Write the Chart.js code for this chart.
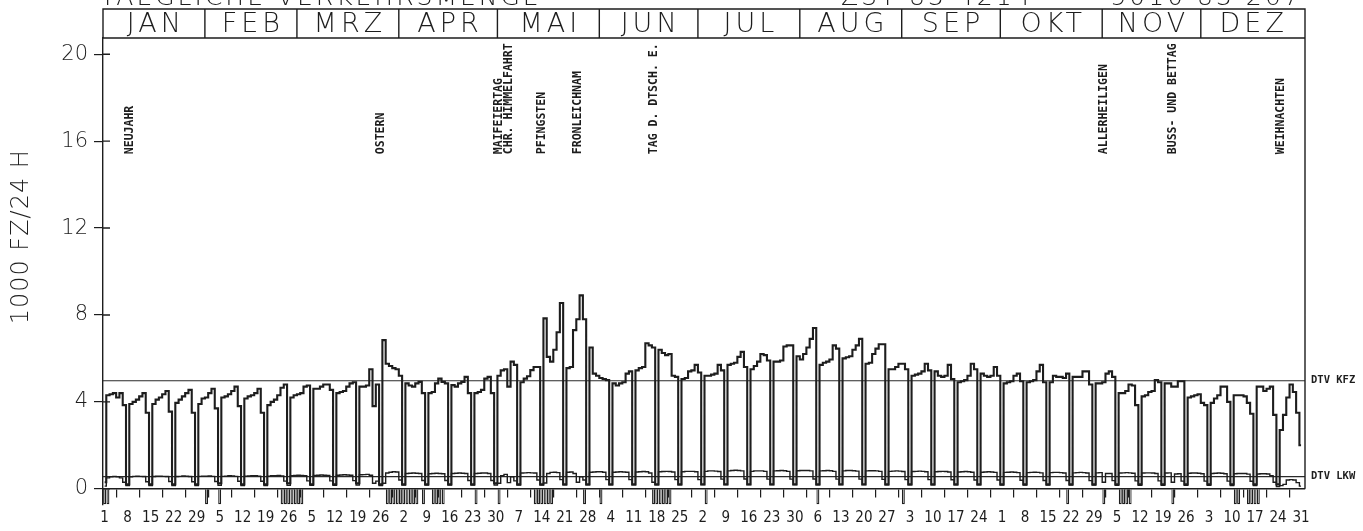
<!DOCTYPE html>
<html>
<head>
<meta charset="utf-8">
<script src="https://cdn.jsdelivr.net/npm/chart.js@4.4.1/dist/chart.umd.min.js"></script>
<style>
  html, body { margin: 0; padding: 0; background: #ffffff; }
  #wrap { width: 1363px; height: 531px; }
</style>
</head>
<body>
<div id="wrap"><canvas id="c" width="1363" height="531"></canvas></div>
<script>
// ---------- DATA (1000 Fz / 24 h, one value per day, 1989, weeks start on Sunday) ----------
const kfzDays001to091 = [
  0.30,4.30,4.35,4.40,4.20,4.40,3.85,
  0.20,3.90,4.00,4.10,4.25,4.40,3.50,
  0.20,3.90,4.10,4.20,4.35,4.50,3.55,
  0.20,3.95,4.10,4.25,4.40,4.55,3.50,
  0.20,3.90,4.15,4.20,4.40,4.60,3.70,
  0.25,4.20,4.25,4.35,4.50,4.70,3.80,
  0.20,4.15,4.25,4.30,4.40,4.60,3.50,
  0.20,3.85,4.00,4.10,4.30,4.65,4.80,
  0.25,4.20,4.30,4.35,4.40,4.70,4.75,
  0.20,4.60,4.60,4.70,4.80,4.80,4.55,
  0.20,4.40,4.45,4.50,4.70,4.85,4.90,
  0.25,4.70,4.70,4.75,5.50,3.80,4.80,
  0.20,6.84,5.75,5.65,5.55,5.50,5.20
];
const kfzDays092to182 = [
  0.20,4.85,4.75,4.70,4.85,4.92,4.40,
  0.20,4.40,4.45,4.85,5.07,4.92,4.85,
  0.20,4.77,4.70,4.85,4.92,5.15,4.40,
  0.20,4.40,4.45,4.55,5.07,5.15,4.40,
  0.25,5.20,5.45,5.50,4.70,5.85,5.70,
  0.20,4.90,5.07,5.18,5.46,5.60,5.60,
  0.20,7.84,6.07,5.85,6.40,7.20,8.55,
  0.20,5.55,5.60,7.30,7.80,8.90,7.80,
  0.20,6.50,5.30,5.20,5.10,5.05,5.00,
  0.20,4.85,4.75,4.85,4.90,5.30,5.40,
  0.20,5.45,5.55,5.60,6.70,6.60,6.50,
  0.20,6.40,6.25,6.15,6.20,5.20,5.15,
  0.20,5.05,5.10,5.40,5.45,5.70,5.35
];
const kfzDays183to273 = [
  0.20,5.20,5.20,5.25,5.30,5.70,5.45,
  0.20,5.70,5.75,5.80,6.07,6.30,5.60,
  0.20,5.50,5.65,5.85,6.20,6.15,5.90,
  0.20,5.85,5.85,5.90,6.55,6.60,6.60,
  0.20,6.10,5.95,6.20,6.50,6.90,7.40,
  0.20,5.70,5.80,5.85,5.95,6.60,6.45,
  0.20,6.00,6.05,6.10,6.40,6.60,6.90,
  0.20,5.75,5.80,6.20,6.45,6.65,6.65,
  0.20,5.50,5.50,5.60,5.75,5.75,5.50,
  0.20,5.20,5.25,5.30,5.40,5.75,5.45,
  0.20,5.40,5.20,5.15,5.20,5.70,5.05,
  0.20,4.90,4.95,5.00,5.20,5.75,5.50,
  0.20,5.30,5.20,5.15,5.20,5.60,5.20
];
const kfzDays274to365 = [
  0.20,4.85,4.90,4.95,5.20,5.30,4.95,
  0.20,4.90,4.95,5.00,5.40,5.70,4.90,
  0.20,4.90,5.20,5.15,5.15,5.10,5.30,
  0.20,5.15,5.15,5.15,5.40,5.40,4.80,
  0.20,4.85,4.85,4.90,5.30,5.40,5.15,
  0.20,4.40,4.40,4.50,4.80,4.75,3.85,
  0.20,4.25,4.30,4.45,4.50,5.00,4.90,
  0.20,4.85,4.85,4.70,4.70,4.95,4.95,
  0.20,4.20,4.25,4.30,4.35,3.95,3.85,
  0.20,3.95,4.15,4.30,4.70,4.70,4.00,
  0.20,4.30,4.30,4.30,4.25,3.95,3.45,
  0.20,4.70,4.70,4.50,4.60,4.70,3.40,
  0.20,2.70,3.40,4.20,4.80,4.45,3.50,
  2.00
];

const lkwDays001to091 = [
  0.12,0.50,0.55,0.56,0.55,0.50,0.30,
  0.15,0.55,0.57,0.58,0.57,0.56,0.32,
  0.15,0.56,0.58,0.58,0.57,0.56,0.33,
  0.14,0.56,0.57,0.59,0.58,0.56,0.32,
  0.15,0.57,0.58,0.58,0.59,0.57,0.33,
  0.16,0.57,0.58,0.60,0.59,0.57,0.34,
  0.15,0.58,0.59,0.60,0.60,0.58,0.34,
  0.15,0.58,0.60,0.60,0.61,0.59,0.35,
  0.16,0.60,0.61,0.62,0.61,0.60,0.36,
  0.16,0.61,0.62,0.63,0.62,0.61,0.36,
  0.16,0.62,0.63,0.64,0.63,0.62,0.37,
  0.17,0.64,0.65,0.66,0.62,0.25,0.35,
  0.15,0.25,0.72,0.76,0.78,0.77,0.40
];
const lkwDays092to182 = [
  0.17,0.70,0.71,0.72,0.71,0.70,0.38,
  0.17,0.69,0.70,0.71,0.70,0.69,0.38,
  0.17,0.70,0.71,0.72,0.71,0.70,0.38,
  0.17,0.70,0.71,0.72,0.72,0.70,0.38,
  0.17,0.25,0.60,0.66,0.28,0.55,0.36,
  0.17,0.72,0.73,0.74,0.73,0.72,0.40,
  0.17,0.26,0.70,0.75,0.76,0.74,0.42,
  0.18,0.76,0.77,0.70,0.30,0.55,0.40,
  0.18,0.76,0.77,0.78,0.78,0.76,0.42,
  0.18,0.76,0.77,0.78,0.77,0.76,0.42,
  0.18,0.77,0.78,0.79,0.78,0.72,0.30,
  0.18,0.78,0.79,0.80,0.79,0.77,0.42,
  0.18,0.78,0.80,0.80,0.80,0.78,0.42
];
const lkwDays183to273 = [
  0.19,0.80,0.82,0.82,0.81,0.79,0.44,
  0.19,0.82,0.84,0.85,0.84,0.82,0.45,
  0.19,0.80,0.82,0.82,0.82,0.80,0.44,
  0.19,0.82,0.83,0.84,0.83,0.80,0.44,
  0.19,0.83,0.84,0.84,0.84,0.82,0.45,
  0.18,0.82,0.83,0.84,0.83,0.80,0.44,
  0.19,0.82,0.84,0.84,0.83,0.81,0.44,
  0.19,0.82,0.83,0.83,0.82,0.80,0.43,
  0.18,0.80,0.81,0.82,0.81,0.79,0.42,
  0.18,0.79,0.80,0.81,0.80,0.78,0.42,
  0.18,0.78,0.79,0.80,0.79,0.77,0.41,
  0.18,0.77,0.78,0.79,0.78,0.76,0.40,
  0.18,0.76,0.77,0.78,0.77,0.75,0.40
];
const lkwDays274to365 = [
  0.17,0.75,0.76,0.77,0.76,0.74,0.39,
  0.17,0.74,0.75,0.76,0.75,0.73,0.38,
  0.17,0.74,0.75,0.75,0.74,0.72,0.38,
  0.17,0.73,0.74,0.75,0.74,0.72,0.37,
  0.17,0.73,0.74,0.30,0.70,0.70,0.37,
  0.16,0.72,0.73,0.74,0.73,0.71,0.36,
  0.16,0.72,0.73,0.73,0.72,0.70,0.36,
  0.16,0.72,0.73,0.30,0.68,0.69,0.35,
  0.16,0.71,0.72,0.72,0.71,0.69,0.35,
  0.16,0.70,0.71,0.72,0.71,0.69,0.35,
  0.15,0.69,0.70,0.70,0.70,0.67,0.34,
  0.15,0.68,0.69,0.69,0.68,0.60,0.30,
  0.10,0.14,0.20,0.40,0.42,0.40,0.28,
  0.12
];

const dtvKfz = 4.97;          // DTV KFZ
const dtvLkw = 0.56;          // DTV LKW

// days marked with a hanging bar below the zero line (holiday / vacation days)
const markedDays = [1,2,32,36,55,56,57,58,59,60,61,87,88,89,90,91,92,93,94,95,96,98,
  101,102,103,104,114,121,132,133,134,135,136,137,147,152,168,169,170,171,172,173,
  184,218,244,294,305,310,311,312,313,326,345,346,349,350,351,352];
const markDepth = -0.72;

const holidayDays  = [1, 85, 121, 124, 134, 145, 168, 305, 326, 359];
const holidayNames = ['NEUJAHR','OSTERN','MAIFEIERTAG','CHR. HIMMELFAHRT','PFINGSTEN',
  'FRONLEICHNAM','TAG D. DTSCH. E.','ALLERHEILIGEN','BUSS- UND BETTAG','WEIHNACHTEN'];

const monthNames = ['JAN','FEB','MRZ','APR','MAI','JUN','JUL','AUG','SEP','OKT','NOV','DEZ'];
const monthDays  = [31,28,31,30,31,30,31,31,30,31,30,31];

// x tick labels: day of month of every Sunday
const tickLabels = [1,8,15,22,29, 5,12,19,26, 5,12,19,26, 2,9,16,23,30, 7,14,21,28,
  4,11,18,25, 2,9,16,23,30, 6,13,20,27, 3,10,17,24, 1,8,15,22,29, 5,12,19,26, 3,10,17,24,31];
const yTicks = [0,4,8,12,16,20];

const titleLeft  = 'TAEGLICHE VERKEHRSMENGE';
const titleMid   = 'ZST 83 4214';
const titleRight = '5010 83 267';
const yTitle = '1000 FZ/24 H';

// ---------- BUILD ----------
const kfz = [...kfzDays001to091, ...kfzDays092to182, ...kfzDays183to273, ...kfzDays274to365];
const lkw = [...lkwDays001to091, ...lkwDays092to182, ...lkwDays183to273, ...lkwDays274to365];
const days = kfz.map((_, i) => i + 1);
const tickDays = tickLabels.map((_, i) => 1 + 7 * i);
const xMin = 0.5, xMax = 366.2;

const ink = '#1d1d1d';
const thinFont = "'DejaVu Sans', sans-serif";
const monoFont = "'DejaVu Sans Mono', monospace";

const framePlugin = {
  id: 'frame',
  afterDraw(chart) {
    const { ctx, chartArea: a, scales: { x, y } } = chart;
    const headTop = 9;
    ctx.save();
    ctx.strokeStyle = ink;
    ctx.fillStyle = ink;
    ctx.lineWidth = 1.4;
    ctx.beginPath();
    ctx.moveTo(a.left, a.top); ctx.lineTo(a.left, headTop);
    ctx.lineTo(a.right, headTop); ctx.lineTo(a.right, y.getPixelForValue(0));
    ctx.moveTo(a.left, a.top); ctx.lineTo(a.right, a.top);
    let start = 1;
    const centers = [];
    monthNames.forEach((m, i) => {
      const x0 = x.getPixelForValue(start - 0.5);
      const x1 = x.getPixelForValue(start + monthDays[i] - 0.5);
      if (i > 0) { ctx.moveTo(x0, headTop); ctx.lineTo(x0, a.top); }
      centers.push((x0 + x1) / 2);
      start += monthDays[i];
    });
    // y tick marks cross the axis slightly into the plot
    yTicks.forEach(v => {
      const py = y.getPixelForValue(v);
      ctx.moveTo(a.left, py); ctx.lineTo(a.left + 7, py);
    });
    ctx.stroke();

    // month names
    ctx.font = "200 27px " + thinFont;
    ctx.textAlign = 'center';
    ctx.textBaseline = 'middle';
    try { ctx.letterSpacing = '4px'; } catch (e) {}
    monthNames.forEach((m, i) => ctx.fillText(m, centers[i] + 2, (headTop + a.top) / 2 + 1));

    // cut-off title line above the header
    ctx.font = "200 25px " + thinFont;
    try { ctx.letterSpacing = '3px'; } catch (e) {}
    ctx.textAlign = 'left';
    ctx.textBaseline = 'alphabetic';
    ctx.fillText(titleLeft, a.left - 3, 5);
    ctx.fillText(titleMid, x.getPixelForValue(225), 5);
    ctx.fillText(titleRight, x.getPixelForValue(307), 5);

    // y axis title
    ctx.font = "200 24px " + thinFont;
    try { ctx.letterSpacing = '1px'; } catch (e) {}
    ctx.save();
    ctx.translate(22, y.getPixelForValue(11.6));
    ctx.rotate(-Math.PI / 2);
    ctx.textAlign = 'center';
    ctx.textBaseline = 'middle';
    ctx.fillText(yTitle, 0, 0);
    ctx.restore();
    try { ctx.letterSpacing = '0px'; } catch (e) {}

    // holiday names (vertical)
    ctx.font = "bold 11.5px " + monoFont;
    ctx.textAlign = 'left';
    ctx.textBaseline = 'middle';
    const baseY = y.getPixelForValue(15.4);
    holidayDays.forEach((d, i) => {
      const px = Math.max(x.getPixelForValue(d), a.left + 27);
      ctx.save();
      ctx.translate(px, baseY);
      ctx.rotate(-Math.PI / 2);
      ctx.fillText(holidayNames[i], 0, 0);
      ctx.restore();
    });

    // DTV labels right of the frame
    ctx.font = "bold 10.5px " + monoFont;
    ctx.fillText('DTV KFZ', a.right + 6, y.getPixelForValue(dtvKfz));
    ctx.fillText('DTV LKW', a.right + 6, y.getPixelForValue(dtvLkw));
    ctx.restore();
  }
};

new Chart(document.getElementById('c'), {
  type: 'line',
  data: {
    datasets: [
      { label: 'KFZ', data: days.map((d, i) => ({ x: d, y: kfz[i] })), stepped: 'middle',
        borderColor: ink, borderWidth: 2.1, pointRadius: 0, fill: false },
      { label: 'LKW', data: days.map((d, i) => ({ x: d, y: lkw[i] })), stepped: 'middle',
        borderColor: ink, borderWidth: 1.4, pointRadius: 0, fill: false },
      { label: 'DTV KFZ', data: [{ x: xMin, y: dtvKfz }, { x: xMax, y: dtvKfz }],
        borderColor: '#2a2a2a', borderWidth: 1.2, pointRadius: 0, fill: false },
      { label: 'DTV LKW', data: [{ x: xMin, y: dtvLkw }, { x: xMax, y: dtvLkw }],
        borderColor: '#2a2a2a', borderWidth: 1.2, pointRadius: 0, fill: false },
      { type: 'bar', label: 'Feiertage', data: markedDays.map(d => ({ x: d, y: markDepth })),
        backgroundColor: '#ffffff', borderColor: ink, borderWidth: 1.3,
        barPercentage: 0.9, categoryPercentage: 1, borderSkipped: 'start' }
    ]
  },
  options: {
    responsive: false,
    animation: false,
    layout: { padding: { left: 0, right: 58, top: 38, bottom: 26 } },
    plugins: { legend: { display: false }, tooltip: { enabled: false } },
    scales: {
      x: {
        type: 'linear', min: xMin, max: xMax, offset: false,
        position: { y: 0 },
        afterBuildTicks: s => { s.ticks = tickDays.map(v => ({ value: v })); },
        grid: { drawOnChartArea: false, drawTicks: true, tickLength: 8, tickColor: ink, lineWidth: 1.2 },
        border: { display: true, color: ink, width: 1.4 },
        ticks: {
          autoSkip: false, maxRotation: 0, minRotation: 0, padding: 12, color: ink,
          font: { family: "'DejaVu Sans Condensed', sans-serif", size: 15 },
          callback: (v, i) => tickLabels[i]
        }
      },
      y: {
        min: -0.75, max: 20.75,
        afterBuildTicks: s => { s.ticks = yTicks.map(v => ({ value: v })); },
        afterFit: s => { s.width = 103; },
        grid: { drawOnChartArea: false, drawTicks: true, tickLength: 9, tickColor: ink, lineWidth: 1.2 },
        border: { display: true, color: ink, width: 1.4 },
        ticks: { padding: 6, color: ink, font: { family: thinFont, size: 21, weight: '200' },
                 callback: v => String(v) }
      }
    }
  },
  plugins: [framePlugin]
});
</script>
</body>
</html>
